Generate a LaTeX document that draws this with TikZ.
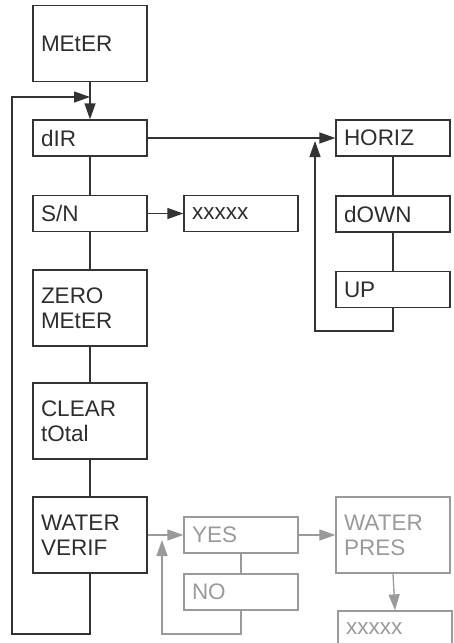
\documentclass[tikz,border=0pt]{standalone}
\usepackage{fontspec}
\setmainfont{Liberation Sans}
\usetikzlibrary{arrows.meta}
\definecolor{dk}{HTML}{333333}
\definecolor{gy}{HTML}{9A9A9A}
\begin{document}
\begin{tikzpicture}[x=1pt,y=-1pt,
  box/.style={draw=dk,text=dk!90!black,line width=1.3pt,minimum width=114pt,text width=98pt,inner xsep=8pt,inner ysep=0pt,align=left,font=\fontsize{22.5}{25}\selectfont},
  one/.style={minimum height=36pt},
  two/.style={minimum height=76pt},
  gbox/.style={box,draw=gy,text=gy},
  ln/.style={draw=dk,line width=1.3pt},
  gln/.style={draw=gy,line width=1.3pt},
  arr/.style={-{Triangle[length=16pt,width=11pt]}}]
\useasboundingbox (0,0) rectangle (453,643);
% left column
\node[box,two] (meter) at (90,43.5) {MEtER};
\node[box,one] (dir) at (90,138) {dIR};
\node[box,one] (sn) at (90,213.5) {S/N};
\node[box,one] (xs) at (241,213.5) {xxxxx};
\node[box,two] (zero) at (90,308) {ZERO\\MEtER};
\node[box,two] (clear) at (90,421) {CLEAR\\tOtal};
\node[box,two] (water) at (90,535) {WATER\\VERIF};
% right column
\node[box,one] (horiz) at (393,138) {HORIZ};
\node[box,one] (down) at (393,214) {dOWN};
\node[box,one] (up) at (393,289.5) {UP};
% gray
\node[gbox,one] (yes) at (241,535) {YES};
\node[gbox,one] (no) at (241,592) {NO};
\node[gbox,two] (pres) at (393,535) {WATER\\PRES};
\node[gbox,one] (xg) at (395,629) {xxxxx};
% coordinates
\coordinate (lp) at (90,97);
\coordinate (hl) at (315,141);
\coordinate (nl) at (162,540);
% connectors
\draw[ln,arr] (meter.south) -- (dir.north);
\draw[ln] (dir.south) -- (sn.north);
\draw[ln,arr] (sn.east) -- (xs.west);
\draw[ln] (sn.south) -- (zero.north);
\draw[ln] (zero.south) -- (clear.north);
\draw[ln] (clear.south) -- (water.north);
\draw[ln,arr] (water.south) |- (12,634) |- (lp);
\draw[ln,arr] (dir.east) -- (horiz.west);
\draw[ln] (horiz.south) -- (down.north);
\draw[ln] (down.south) -- (up.north);
\draw[ln,arr] (up.south) |- (315,331) -- (hl);
\draw[gln,arr] (water.east) -- (yes.west);
\draw[gln,arr] (yes.east) -- (pres.west);
\draw[gln] (yes.south) -- (no.north);
\draw[gln,arr] (no.south) |- (162,634) -- (nl);
\draw[gln,arr] (pres.south) -- (xg.north);
\end{tikzpicture}
\end{document}
